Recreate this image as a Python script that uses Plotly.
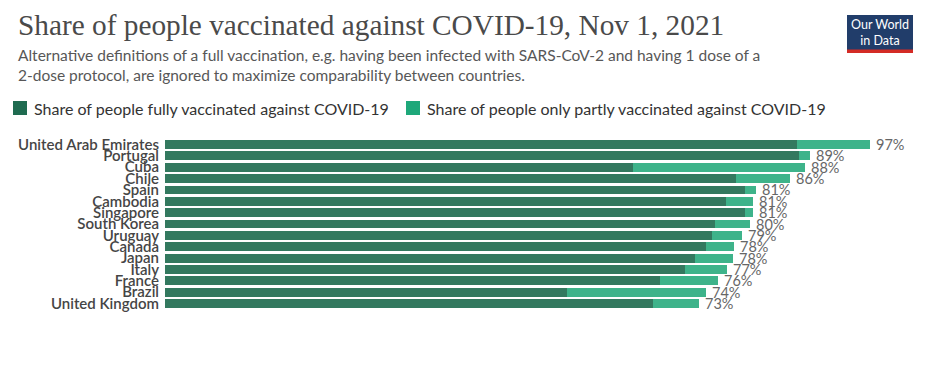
import plotly.graph_objects as go

countries = ["United Arab Emirates", "Portugal", "Cuba", "Chile", "Spain", "Cambodia",
             "Singapore", "South Korea", "Uruguay", "Canada", "Japan", "Italy",
             "France", "Brazil", "United Kingdom"]
fully = [86.8, 87.1, 64.3, 78.5, 79.7, 77.1, 79.7, 75.6, 75.2, 74.3, 72.8, 71.4, 68.0, 55.2, 67.0]
partly = [10.1, 1.5, 23.6, 7.3, 1.5, 3.7, 1.0, 4.8, 4.1, 3.9, 5.2, 5.8, 7.9, 19.1, 6.4]
total_labels = ["97%", "89%", "88%", "86%", "81%", "81%", "81%", "80%", "79%", "78%",
                "78%", "77%", "76%", "74%", "73%"]

title = "Share of people vaccinated against COVID-19, Nov 1, 2021"
subtitle = ("Alternative definitions of a full vaccination, e.g. having been infected with SARS-CoV-2 and having 1 dose of a<br>"
            "2-dose protocol, are ignored to maximize comparability between countries.")
legend_names = ["Share of people fully vaccinated against COVID-19",
                "Share of people only partly vaccinated against COVID-19"]

C_FULL = "#33795f"
C_PART = "#3eb38a"
C_FULL_L = "#1f6b50"
C_PART_L = "#1ea87a"

# the page body adds an 8px margin; work in screen pixels and subtract it
OFF = 8
W, H = 940 - OFF, 372 - OFF
L, T, PW, PH = 165 - OFF, 134 - OFF, 728, 180


def px(x):
    return (x - OFF - L) / PW


def py(y):
    return (T + PH - (y - OFF)) / PH


fig = go.Figure()
fig.add_trace(go.Bar(y=countries, x=fully, orientation="h", marker_color=C_FULL,
                     marker_line_width=0, name=legend_names[0], showlegend=False))
fig.add_trace(go.Bar(y=countries, x=partly, orientation="h", marker_color=C_PART,
                     marker_line_width=0, name=legend_names[1], showlegend=False))

totals = [f + p for f, p in zip(fully, partly)]
annotations = []
for c, t, lab in zip(countries, totals, total_labels):
    annotations.append(dict(x=t, y=c, xref="x", yref="y", text=lab, showarrow=False,
                            xanchor="left", yanchor="middle", xshift=4,
                            font=dict(family="Lato", size=14.5, color="#666666")))

# title and subtitle
annotations.append(dict(x=px(16), y=py(25), xref="paper", yref="paper", text=title,
                        showarrow=False, xanchor="left", yanchor="middle",
                        font=dict(family="Liberation Serif", size=29.3, color="#4a4a4a")))
annotations.append(dict(x=px(16), y=py(65), xref="paper", yref="paper", text=subtitle,
                        showarrow=False, xanchor="left", yanchor="middle", align="left",
                        font=dict(family="Lato", size=15.5, color="#575757")))

# legend
shapes = []
leg_sq = [(13, C_FULL_L), (406, C_PART_L)]
for (sx, col), name in zip(leg_sq, legend_names):
    shapes.append(dict(type="rect", xref="paper", yref="paper", x0=px(sx), x1=px(sx + 14),
                       y0=py(115), y1=py(101), fillcolor=col, line_width=0))
    annotations.append(dict(x=px(sx + 19), y=py(108), xref="paper", yref="paper", text=name,
                            showarrow=False, xanchor="left", yanchor="middle",
                            font=dict(family="Lato", size=16, color="#333333")))

# logo
shapes.append(dict(type="rect", xref="paper", yref="paper", x0=px(847), x1=px(913),
                   y0=py(53), y1=py(15), fillcolor="#213d6a", line_width=0))
shapes.append(dict(type="rect", xref="paper", yref="paper", x0=px(847), x1=px(913),
                   y0=py(53), y1=py(49.5), fillcolor="#d42b25", line_width=0))
annotations.append(dict(x=px(880), y=py(32), xref="paper", yref="paper",
                        text="Our World<br>in Data", showarrow=False, xanchor="center",
                        yanchor="middle", align="center",
                        font=dict(family="Lato", size=12.5, color="white")))

fig.update_layout(
    width=W, height=H,
    margin=dict(l=L, r=W - L - PW, t=T, b=H - T - PH, pad=0, autoexpand=False),
    barmode="stack", bargap=0.22,
    paper_bgcolor="white", plot_bgcolor="white",
    xaxis=dict(range=[0, 100], visible=False, fixedrange=True, automargin=False),
    yaxis=dict(autorange="reversed", showgrid=False, zeroline=False, showline=False,
               automargin=False, tickmode="array", tickvals=countries, ticktext=countries,
               ticks="", ticklabelstandoff=5,
               tickfont=dict(family="Lato", size=15, color="#454545", weight=600)),
    annotations=annotations, shapes=shapes, showlegend=False,
)

fig.write_html("out.html")
